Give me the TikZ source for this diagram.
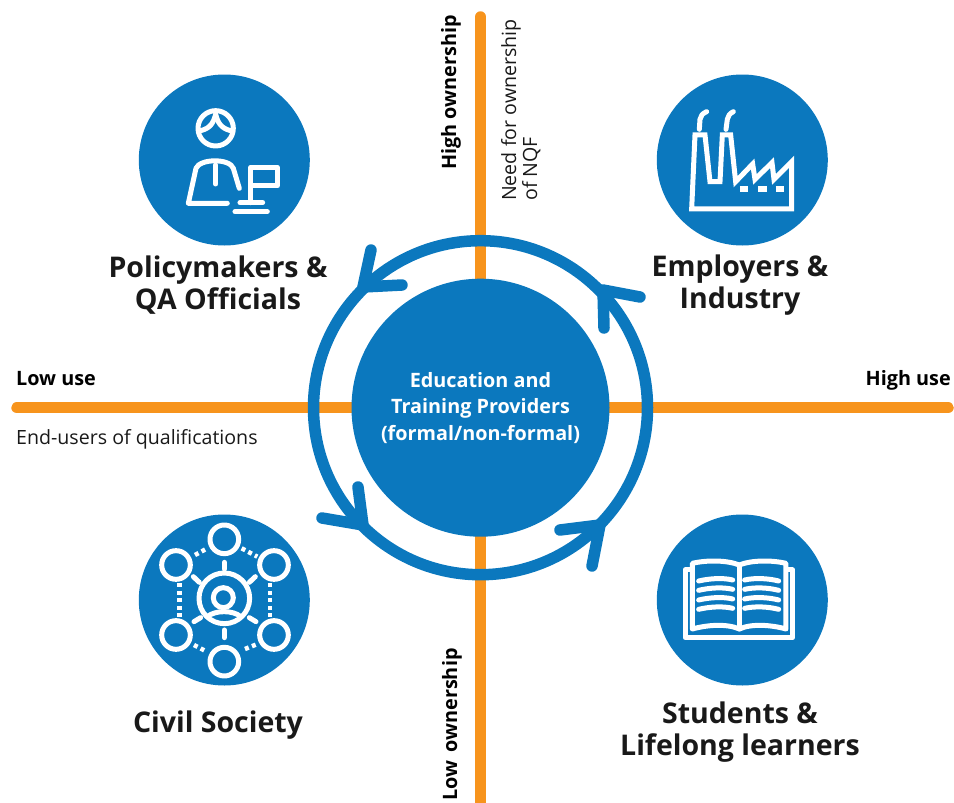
\documentclass[tikz,border=0pt]{standalone}
\usepackage{fontspec}
\setmainfont{Open Sans}
\definecolor{bluec}{HTML}{0B78BE}
\definecolor{orangec}{HTML}{F7941D}
\tikzset{
  axisline/.style={draw=orangec,line width=11.5pt,line cap=round},
  disc/.style={circle,fill=bluec,minimum size=171pt,inner sep=0pt},
  core/.style={circle,fill=bluec,minimum size=258pt,inner sep=0pt,text=white,align=center,font=\fontsize{19.8}{26.5}\selectfont\bfseries},
  ringarc/.style={draw=bluec,line width=11.5pt},
  headarm/.style={draw=bluec,line width=11.5pt,line cap=round,line join=round},
  title/.style={align=center,font=\fontsize{28.5}{32.5}\selectfont\bfseries,text=black!90,inner sep=0pt},
  small/.style={font=\fontsize{19.6}{21}\selectfont,text=black!90,inner sep=0pt},
  smallb/.style={small,font=\fontsize{19.8}{21}\selectfont\bfseries,text=black},
  ico/.style={draw=white,line width=5pt,line cap=round,line join=round},
  icodash/.style={draw=white,line width=4.5pt,dash pattern=on 4pt off 3.5pt},
}
\begin{document}
\begin{tikzpicture}[x=1pt,y=-1pt]
\useasboundingbox (0,0) rectangle (954,803);
% axes
\coordinate (axL) at (17,407.7);
\coordinate (axR) at (948,407.7);
\coordinate (axT) at (480.5,17);
\coordinate (axB) at (480.5,815);
\coordinate (cc) at (480.5,407.7);
\draw[axisline] (axL) -- (axR);
\draw[axisline] (axT) -- (axB);
% ring
\draw[ringarc] (cc) circle[radius=167pt];
% arrowheads
\coordinate (tl) at (363,287); \coordinate (tla) at (371,250); \coordinate (tlb) at (402,285);
\coordinate (tr) at (603,290); \coordinate (tra) at (640,297); \coordinate (trb) at (604,328);
\coordinate (bl) at (363,525); \coordinate (bla) at (358,487); \coordinate (blb) at (322,518);
\coordinate (br) at (600,525); \coordinate (bra) at (560,530); \coordinate (brb) at (592,566);
\draw[headarm] (tla) -- (tl) -- (tlb);
\draw[headarm] (tra) -- (tr) -- (trb);
\draw[headarm] (bla) -- (bl) -- (blb);
\draw[headarm] (bra) -- (br) -- (brb);
% nodes
\node[core] (centre) at (cc) {Education and\\Training Providers\\(formal/non-formal)};
\node[disc] (d1) at (224.3,160) {};
\node[disc] (d2) at (742.3,160) {};
\node[disc] (d3) at (224.3,600) {};
\node[disc] (d4) at (742.3,600) {};
\node[title] (t1) at (218,285) {Policymakers \&\\QA Officials};
\node[title] (t2) at (740,285) {Employers \&\\Industry};
\node[title] (t3) at (218,725.5) {Civil Society};
\node[title] (t4) at (740,732) {Students \&\\Lifelong learners};
\node[smallb,anchor=base west] (lowuse) at (16,385.5) {Low use};
\node[smallb,anchor=base east] (highuse) at (951,385.5) {High use};
\node[small,anchor=base west] (endu) at (16,444.5) {End-users of qualifications};
\node[smallb,rotate=90,anchor=base east] (highown) at (456,15) {High ownership};
\node[smallb,rotate=90,anchor=base west] (lowown) at (457,801) {Low\, ownership};
\node[small,rotate=90,anchor=north west,align=left] (need) at (501,201) {Need for ownership\\of NQF};
% person icon
\begin{scope}[shift={(120,60)},x=.3333pt,y=-.3333pt]
\draw[ico] (287,205) circle[radius=53];
\draw[ico] (287,163) .. controls (280,190) and (270,205) .. (242,212);
\draw[ico] (287,163) .. controls (294,190) and (304,205) .. (332,212);
\draw[ico] (322,430) -- (205,430) -- (228,325) .. controls (240,295) and (330,295) .. (340,325) -- (358,385);
\draw[ico] (287,315) -- (287,372);
\draw[ico] (392,378) rectangle (472,322);
\draw[ico] (392,378) -- (392,428);
\draw[ico] (360,428) -- (428,428);
\draw[ico] (345,455) -- (442,455);
\end{scope}
% factory icon
\begin{scope}[shift={(640,60)},x=.3333pt,y=-.3333pt]
\draw[ico,line cap=butt,line join=miter] (155,447) -- (165,225) -- (195,225) -- (210,365) -- (240,365) -- (247,225) -- (272,225) -- (287,365) -- (338,312) -- (345,358) -- (396,308) -- (402,358) -- (455,305) -- (455,447) -- cycle;
\draw[ico] (178,208) -- (180,178) .. controls (181,168) and (188,160) .. (200,155);
\draw[ico] (258,208) -- (262,178) .. controls (263,168) and (270,160) .. (280,155);
\draw[ico,line cap=butt,line width=6pt] (300,388) -- (325,388);
\draw[ico,line cap=butt,line width=6pt] (355,388) -- (380,388);
\draw[ico,line cap=butt,line width=6pt] (408,388) -- (432,388);
\end{scope}
% network icon
\begin{scope}[shift={(120,505)},x=.3333pt,y=-.3333pt]
\foreach \p in {(313,103),(168,180),(462,180),(168,390),(462,390),(313,470)}
  \draw[ico] \p circle[radius=43];
\draw[ico] (313,280) circle[radius=76];
\draw[ico] (310,278) circle[radius=30];
\draw[ico] (262,335) .. controls (285,315) and (340,315) .. (362,335);
\draw[ico] (313,172) -- (313,192);
\draw[ico] (313,375) -- (313,398);
\draw[ico] (220,215) -- (238,232);
\draw[ico] (388,232) -- (406,215);
\draw[ico] (222,350) -- (242,338);
\draw[ico] (388,338) -- (408,350);
\draw[icodash] (178,235) -- (178,335);
\draw[icodash] (450,235) -- (450,335);
\draw[icodash] (225,150) -- (262,130);
\draw[icodash] (365,130) -- (412,155);
\draw[icodash] (222,420) -- (260,440);
\draw[icodash] (375,432) -- (410,418);
\end{scope}
% book icon
\begin{scope}[shift={(640,505)},x=.3333pt,y=-.3333pt]
\draw[ico] (148,195) -- (135,195) -- (135,398) -- (458,398) -- (458,195) -- (442,195);
\draw[ico] (298,180) .. controls (260,165) and (200,165) .. (157,175) -- (157,372) .. controls (200,360) and (260,355) .. (298,372) .. controls (335,355) and (395,360) .. (438,372) -- (438,175) .. controls (395,165) and (335,165) .. (298,180) -- cycle;
\draw[ico] (298,180) -- (298,372);
\foreach \y in {0,28,57,85}{
  \draw[ico] (176,228+\y) .. controls (210,220+\y) and (250,218+\y) .. (278,225+\y);
  \draw[ico] (314,225+\y) .. controls (345,218+\y) and (385,220+\y) .. (416,228+\y);
}
\end{scope}
\end{tikzpicture}
\end{document}
